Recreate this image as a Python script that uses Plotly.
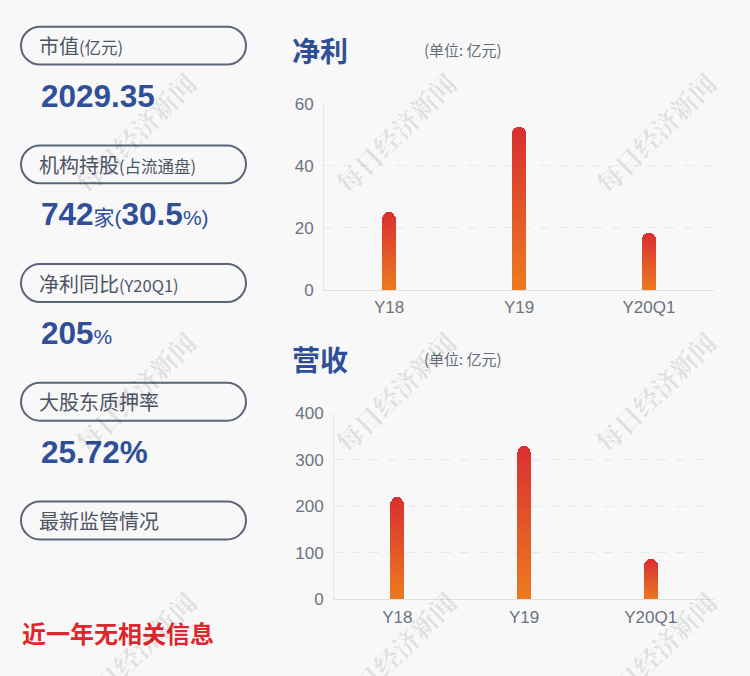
import plotly.graph_objects as go

W, H = 750, 676

# ---------------- data ----------------
categories = ["Y18", "Y19", "Y20Q1"]
net_profit = [25.3, 52.5, 18.5]      # 净利 (亿元)
revenue = [219, 329, 86]             # 营收 (亿元)
profit_ticks = [0, 20, 40, 60]
revenue_ticks = [0, 100, 200, 300, 400]

pill_labels = [
    "市值<span style='font-size:16.5px'>(亿元)</span>",
    "机构持股<span style='font-size:16.5px'>(占流通盘)</span>",
    "净利同比<span style='font-size:16.5px'>(Y20Q1)</span>",
    "大股东质押率",
    "最新监管情况",
]
pill_values = [
    "<b>2029.35</b>",
    "<b>742</b><span style='font-size:21px'>家(</span><b>30.5</b><span style='font-size:21px'>%)</span>",
    "<b>205</b><span style='font-size:21px'>%</span>",
    "<b>25.72%</b>",
    "",
]
no_info_text = "近一年无相关信息"
watermark_text = "每日经济新闻"

# ---------------- styling ----------------
BG = "#f8f8f8"
BLUE = "#2f4f98"
GRAY_TXT = "#4d5564"
PILL_LINE = "#5b6577"
TICK_COL = "#6b7380"
FONT = "Liberation Sans, Noto Sans CJK SC, sans-serif"
CJK = "Noto Sans CJK SC, Liberation Sans, sans-serif"
TOP_COL = (217, 48, 50)
BOT_COL = (235, 122, 30)
NSEG = 40

# vertical calibration of the capture (layout y -> picture y)
SY, OY = 0.9743, 9.28


def px(x):
    return x / W


def py(y):
    return 1 - ((y - OY) / SY) / H


def seg_color(i):
    t = i / (NSEG - 1)  # 0 bottom -> 1 top
    c = [round(BOT_COL[k] + (TOP_COL[k] - BOT_COL[k]) * t) for k in range(3)]
    return f"rgb({c[0]},{c[1]},{c[2]})"


fig = go.Figure()

# gradient bars: each bar split into NSEG stacked slices
for i in range(NSEG):
    fig.add_trace(go.Bar(x=categories, y=[v / NSEG for v in net_profit],
                         marker=dict(color=seg_color(i), line=dict(width=0)),
                         width=0.108, xaxis="x", yaxis="y",
                         showlegend=False, hoverinfo="skip"))
    fig.add_trace(go.Bar(x=categories, y=[v / NSEG for v in revenue],
                         marker=dict(color=seg_color(i), line=dict(width=0)),
                         width=0.11, xaxis="x2", yaxis="y2",
                         showlegend=False, hoverinfo="skip"))

axis_common = dict(showgrid=False, zeroline=False, fixedrange=True)
fig.update_layout(
    width=W, height=H,
    margin=dict(l=0, r=0, t=0, b=0),
    paper_bgcolor=BG, plot_bgcolor=BG,
    barmode="stack", barcornerradius=7, bargap=0,
    font=dict(family=FONT, color=TICK_COL),
    xaxis=dict(domain=[px(324), px(714)], anchor="y", showline=True,
               linecolor="#e0e0e0", linewidth=1, ticks="",
               tickfont=dict(size=17, color=TICK_COL, family=FONT),
               ticklabelstandoff=2, **axis_common),
    yaxis=dict(domain=[py(291), py(104.3)], anchor="x", range=[0, 60],
               tickvals=profit_ticks, showgrid=True, gridcolor="#e8e8e8",
               griddash="dash", showline=True, linecolor="#e6e6e6",
               tickfont=dict(size=17, color=TICK_COL, family=FONT),
               ticklabelstandoff=6, zeroline=False, fixedrange=True),
    xaxis2=dict(domain=[px(334), px(714)], anchor="y2", showline=True,
                linecolor="#e0e0e0", linewidth=1, ticks="",
                tickfont=dict(size=17, color=TICK_COL, family=FONT),
                ticklabelstandoff=2, **axis_common),
    yaxis2=dict(domain=[py(601), py(414.3)], anchor="x2", range=[0, 400],
                tickvals=revenue_ticks, showgrid=True, gridcolor="#e8e8e8",
                griddash="dash", showline=True, linecolor="#e6e6e6",
                tickfont=dict(size=17, color=TICK_COL, family=FONT),
                ticklabelstandoff=6, zeroline=False, fixedrange=True),
)

shapes = []
annotations = []


def pill_path(x0, y0, x1, y1):
    r = (y1 - y0) / 2
    k = 0.5523 * r
    ym = (y0 + y1) / 2
    pts = [
        ("M", [(x0 + r, y0)]),
        ("L", [(x1 - r, y0)]),
        ("C", [(x1 - r + k, y0), (x1, ym - k), (x1, ym)]),
        ("C", [(x1, ym + k), (x1 - r + k, y1), (x1 - r, y1)]),
        ("L", [(x0 + r, y1)]),
        ("C", [(x0 + r - k, y1), (x0, ym + k), (x0, ym)]),
        ("C", [(x0, ym - k), (x0 + r - k, y0), (x0 + r, y0)]),
    ]
    s = ""
    for cmd, ps in pts:
        s += cmd + " ".join(f"{px(a):.5f},{py(b):.5f}" for a, b in ps) + " "
    return s + "Z"


pill_tops = [27, 146, 265, 384, 503]
for lbl, val, top in zip(pill_labels, pill_values, pill_tops):
    shapes.append(dict(type="path", xref="paper", yref="paper",
                       path=pill_path(21, top, 246, top + 38),
                       line=dict(color=PILL_LINE, width=2), fillcolor="rgba(0,0,0,0)"))
    annotations.append(dict(x=px(37), y=py(top + 19), xref="paper", yref="paper",
                            xanchor="left", yanchor="middle", showarrow=False,
                            text=lbl, font=dict(size=20, color=GRAY_TXT, family=CJK)))
    if val:
        annotations.append(dict(x=px(39), y=py(top + 69), xref="paper", yref="paper",
                                xanchor="left", yanchor="middle", showarrow=False,
                                text=val, font=dict(size=31.5, color=BLUE, family=FONT)))

annotations.append(dict(x=px(20), y=py(634), xref="paper", yref="paper",
                        xanchor="left", yanchor="middle", showarrow=False,
                        text="<b>" + no_info_text + "</b>",
                        font=dict(size=24, color="#e1252d", family=CJK)))

# chart titles
for title, yc in [("净利", 50), ("营收", 360)]:
    annotations.append(dict(x=px(290), y=py(yc), xref="paper", yref="paper",
                            xanchor="left", yanchor="middle", showarrow=False,
                            text="<b>" + title + "</b>",
                            font=dict(size=28, color=BLUE, family=CJK)))
    annotations.append(dict(x=px(422), y=py(yc), xref="paper", yref="paper",
                            xanchor="left", yanchor="middle", showarrow=False,
                            text="(单位: 亿元)",
                            font=dict(size=15, color="#666c78", family=CJK)))

# watermarks
for xc in [135, 395, 655]:
    for yc in [133, 393, 653]:
        annotations.append(dict(x=px(xc), y=py(yc), xref="paper", yref="paper",
                                xanchor="center", yanchor="middle", showarrow=False,
                                textangle=-45, text="<b>" + watermark_text + "</b>",
                                font=dict(size=26, color="rgba(0,0,0,0.10)",
                                          family="Noto Serif CJK SC, Noto Sans CJK SC")))

fig.update_layout(shapes=shapes, annotations=annotations)
fig.write_html("out.html")
